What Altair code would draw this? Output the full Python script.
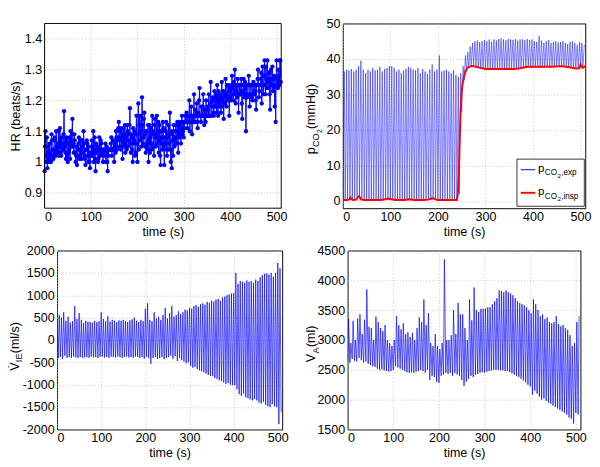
import altair as alt
import pandas as pd

FONT = "Liberation Sans"

# ---------------- data ----------------
hr_time_even = list(range(0, 510, 2))
hr_values_even = [
    0.97, 1.10, 1.02, 0.98, 1.05, 1.01, 1.03, 1.00, 1.07, 1.02,
    1.04, 1.08, 1.02, 1.05, 1.03, 1.10, 1.05, 1.07, 1.02, 1.06,
    1.04, 1.165, 1.05, 1.01, 1.07, 1.00, 1.03, 1.08, 1.10, 1.05,
    1.14, 1.06, 1.09, 1.03, 1.02, 0.99, 1.04, 1.08, 1.02, 1.07,
    1.01, 1.05, 1.10, 1.02, 0.99, 1.04, 1.06, 1.00, 1.03, 0.98,
    1.02, 1.07, 1.04, 1.00, 1.08, 0.97, 1.03, 1.05, 1.01, 1.08,
    1.02, 1.06, 1.04, 1.00, 1.04, 1.04, 1.00, 1.05, 0.97, 1.02,
    1.04, 1.04, 1.08, 1.04, 1.04, 1.00, 1.06, 1.10, 1.04, 1.07,
    1.13, 1.05, 1.10, 1.08, 1.01, 1.11, 1.06, 1.03, 1.09, 1.12,
    1.05, 1.09, 1.175, 1.03, 1.08, 1.00, 1.06, 1.10, 1.03, 1.15,
    1.00, 1.19, 1.12, 1.07, 1.15, 1.21, 1.06, 1.14, 1.09, 1.03,
    1.10, 1.06, 1.00, 1.12, 1.08, 1.04, 1.15, 1.09, 1.02, 1.14,
    1.05, 1.15, 1.10, 1.03, 1.12, 0.99, 1.08, 1.04, 1.11, 0.99,
    1.06, 1.13, 1.02, 1.09, 1.04, 1.16, 1.00, 0.98, 1.07, 1.12,
    1.05, 1.10, 1.08, 1.13, 1.03, 1.09, 1.12, 1.06, 1.15, 1.10,
    1.08, 1.13, 1.13, 1.16, 1.11, 1.13, 1.20, 1.13, 1.18, 1.09,
    1.13, 1.22, 1.13, 1.15, 1.19, 1.11, 1.15, 1.24, 1.15, 1.18,
    1.15, 1.22, 1.12, 1.15, 1.20, 1.15, 1.17, 1.22, 1.15, 1.26,
    1.15, 1.20, 1.16, 1.23, 1.18, 1.21, 1.25, 1.15, 1.19, 1.22,
    1.16, 1.26, 1.20, 1.14, 1.22, 1.27, 1.18, 1.21, 1.25, 1.15,
    1.23, 1.20, 1.28, 1.22, 1.26, 1.30, 1.19, 1.25, 1.27, 1.16,
    1.25, 1.22, 1.27, 1.14, 1.25, 1.21, 1.26, 1.10, 1.25, 1.22,
    1.28, 1.18, 1.25, 1.25, 1.20, 1.26, 1.22, 1.25, 1.17, 1.25,
    1.30, 1.21, 1.25, 1.27, 1.19, 1.31, 1.25, 1.33, 1.22, 1.27,
    1.33, 1.24, 1.29, 1.17, 1.30, 1.25, 1.23, 1.27, 1.18, 1.13,
    1.33, 1.26, 1.30, 1.25, 1.33,
]
hr_time_odd = list(range(1, 510, 2))
hr_values_odd = [
    1.05, 1.00, 1.08, 1.03, 1.00, 1.06, 1.02, 1.09, 1.04, 1.01,
    1.07, 1.03, 1.10, 1.04, 1.06, 1.02, 1.11, 1.03, 1.08, 1.04,
    1.09, 1.06, 1.03, 1.08, 1.02, 1.06, 1.04, 1.01, 1.07, 1.09,
    1.05, 1.03, 1.07, 1.00, 1.05, 1.02, 1.06, 1.01, 1.04, 1.03,
    1.07, 1.03, 1.06, 1.01, 1.04, 1.07, 1.02, 1.05, 1.00, 1.03,
    1.05, 1.02, 1.10, 1.03, 1.01, 1.06, 1.04, 1.00, 1.04, 1.02,
    1.07, 1.03, 1.04, 1.04, 1.02, 1.06, 1.03, 1.00, 1.04, 1.04,
    1.04, 1.06, 1.02, 1.04, 1.07, 1.05, 1.03, 1.08, 1.05, 1.11,
    1.08, 1.11, 1.04, 1.07, 1.09, 1.05, 1.12, 1.08, 1.04, 1.10,
    1.07, 1.12, 1.06, 1.09, 1.04, 1.11, 1.07, 1.02, 1.09, 1.06,
    1.09, 1.04, 1.15, 1.10, 1.05, 1.12, 1.08, 1.16, 1.05, 1.10,
    1.04, 1.12, 1.07, 1.03, 1.11, 1.06, 1.10, 1.05, 1.12, 1.08,
    1.09, 1.06, 1.13, 1.07, 1.02, 1.10, 1.06, 1.13, 1.05, 1.08,
    1.10, 1.04, 1.08, 1.12, 1.06, 1.09, 1.04, 1.10, 1.02, 1.07,
    1.08, 1.12, 1.06, 1.10, 1.13, 1.08, 1.11, 1.13, 1.09, 1.13,
    1.11, 1.15, 1.13, 1.13, 1.15, 1.13, 1.10, 1.15, 1.13, 1.15,
    1.15, 1.13, 1.17, 1.15, 1.13, 1.16, 1.20, 1.15, 1.13, 1.15,
    1.18, 1.15, 1.17, 1.13, 1.15, 1.18, 1.15, 1.15, 1.19, 1.15,
    1.18, 1.21, 1.15, 1.18, 1.22, 1.16, 1.20, 1.23, 1.18, 1.21,
    1.20, 1.18, 1.23, 1.21, 1.19, 1.22, 1.25, 1.20, 1.21, 1.24,
    1.21, 1.25, 1.24, 1.20, 1.22, 1.25, 1.23, 1.21, 1.25, 1.22,
    1.22, 1.25, 1.19, 1.23, 1.27, 1.22, 1.24, 1.25, 1.21, 1.25,
    1.25, 1.22, 1.25, 1.21, 1.25, 1.23, 1.25, 1.20, 1.25, 1.27,
    1.25, 1.23, 1.25, 1.29, 1.25, 1.22, 1.28, 1.25, 1.31, 1.24,
    1.26, 1.29, 1.22, 1.27, 1.25, 1.31, 1.24, 1.28, 1.25, 1.27,
    1.27, 1.24, 1.28, 1.33, 1.26,
]

breath_time = list(range(0, 510, 5))
pco2_exp_peak = [
    36.5, 37.0, 36.8, 37.2, 36.5, 37.0, 38.0, 39.5, 37.0, 36.0,
    37.0, 36.5, 37.5, 36.8, 37.0, 37.8, 36.5, 37.2, 37.5, 38.0,
    38.0, 37.5, 36.5, 37.0, 36.0, 36.8, 37.2, 37.8, 37.5, 37.0,
    36.8, 37.5, 36.0, 37.2, 36.5, 35.8, 37.0, 38.5, 36.5, 37.0,
    41.0, 36.5, 36.8, 37.0, 36.5, 36.0, 36.8, 35.5, 35.0, 36.0,
    38.0, 41.0, 42.0, 43.5, 44.5, 45.0, 45.2, 44.8, 45.0, 45.3,
    45.0, 45.5, 44.8, 45.5, 45.2, 45.6, 45.8, 45.5, 45.3, 45.6,
    45.5, 45.4, 45.6, 45.2, 45.5, 45.5, 45.3, 45.6, 45.4, 45.5,
    45.0, 44.8, 46.5, 45.2, 44.6, 45.0, 45.3, 44.5, 44.8, 45.0,
    44.6, 44.8, 45.0, 44.5, 44.2, 44.8, 45.0, 44.5, 44.0, 44.8,
    44.5, 44.0,
]
pco2_exp_trough = [
    0.3, 0.3, 0.5, 1.0, 0.5, 0.4, 1.2, 1.3, 0.5, 0.3,
    0.3, 0.3, 0.3, 0.3, 0.4, 0.3, 0.3, 0.3, 0.5, 0.7,
    0.6, 0.4, 0.3, 0.3, 0.3, 0.3, 0.4, 0.5, 0.3, 0.3,
    0.3, 0.3, 0.3, 0.3, 0.3, 0.3, 0.4, 0.4, 0.6, 0.8,
    0.5, 0.3, 0.3, 0.3, 0.3, 0.3, 0.3, 0.3, 0.3, 2.0,
    25.0, 34.0, 36.5, 37.5, 38.0, 38.0, 37.8, 37.5, 37.3, 37.2,
    37.2, 37.2, 37.2, 37.3, 37.2, 37.2, 37.3, 37.2, 37.2, 37.2,
    37.2, 37.3, 37.2, 37.2, 37.3, 37.5, 37.7, 37.8, 37.8, 37.7,
    37.8, 37.8, 37.8, 37.6, 37.7, 37.8, 37.8, 37.7, 37.8, 37.8,
    37.8, 37.9, 38.0, 37.9, 37.7, 37.5, 37.4, 37.3, 37.2, 37.2,
    38.3, 37.5,
]
pco2_insp_time = [
    0, 5, 10, 14, 16, 18, 22, 28, 31, 33,
    35, 38, 45, 60, 80, 90, 95, 100, 110, 130,
    140, 150, 170, 180, 188, 192, 196, 200, 220, 240,
    242, 244, 246, 248, 250, 252, 255, 258, 262, 266,
    270, 275, 280, 290, 300, 320, 340, 360, 370, 380,
    390, 400, 420, 440, 460, 470, 480, 490, 495, 498,
    500, 502, 505, 510,
]
pco2_insp = [
    0.3, 0.3, 0.3, 0.5, 1.0, 0.5, 0.3, 0.4, 1.0, 1.3,
    1.2, 0.5, 0.3, 0.3, 0.3, 0.5, 0.7, 0.6, 0.3, 0.3,
    0.5, 0.3, 0.3, 0.4, 0.8, 0.7, 0.4, 0.3, 0.3, 0.3,
    2.0, 8.0, 18.0, 26.0, 31.0, 33.0, 35.0, 36.5, 37.5, 37.8,
    38.0, 38.0, 37.8, 37.5, 37.2, 37.2, 37.2, 37.2, 37.3, 37.6,
    37.8, 37.8, 37.8, 37.8, 38.0, 37.8, 37.6, 37.3, 37.3, 37.5,
    38.5, 38.0, 37.5, 38.0,
]
vie_peak = [
    450, 560, 500, 620, 430, 520, 390, 420, 760, 470,
    600, 450, 380, 430, 410, 400, 390, 430, 400, 420,
    620, 470, 420, 530, 410, 450, 430, 400, 440, 430,
    450, 420, 400, 440, 460, 500, 430, 400, 450, 420,
    700, 820, 450, 420, 620, 480, 520, 450, 560, 720,
    480, 600, 760, 520, 560, 640, 580, 620, 680, 660,
    720, 700, 760, 780, 740, 800, 820, 790, 850, 830,
    880, 860, 900, 920, 880, 950, 970, 1000, 1020, 1040,
    1050, 1500, 1250, 1320, 1300, 1280, 1330, 1300, 1320, 1280,
    1350, 1320, 1400, 1450, 1480, 1490, 1460, 1500, 1420, 1500,
    1720, 1600,
]
vie_trough = [
    -400, -380, -420, -350, -400, -380, -400, -370, -390, -400,
    -380, -400, -390, -380, -400, -370, -390, -380, -400, -380,
    -370, -390, -380, -400, -370, -380, -390, -370, -380, -400,
    -380, -370, -390, -380, -400, -370, -380, -400, -380, -420,
    -380, -400, -530, -400, -380, -420, -400, -380, -430, -400,
    -380, -350, -420, -360, -470, -400, -450, -480, -520, -500,
    -580, -620, -600, -650, -680, -700, -720, -750, -780, -800,
    -810, -850, -870, -900, -920, -950, -980, -960, -1000, -1010,
    -1010, -1100, -1210, -1250, -1200, -1280, -1300, -1330, -1350, -1320,
    -1350, -1400, -1420, -1380, -1450, -1480, -1500, -1430, -1480, -1500,
    -1880, -1610,
]
va_peak = [
    3350, 2950, 3320, 3000, 3360, 3430, 3100, 3340, 3850, 3220,
    3200, 3000, 3390, 3300, 3200, 3150, 3250, 3000, 2950, 2900,
    3000, 3400, 3250, 3180, 3280, 3100, 3130, 3050, 3120, 3000,
    3200, 3380, 3300, 3680, 3250, 3450, 2950, 2900, 3100, 2900,
    2850, 2950, 4350, 3000, 3000, 3080, 3500, 3100, 3620, 3430,
    3430, 3200, 3000, 3680, 3330, 3880, 3500, 3470, 3520, 3520,
    3530, 3550, 3550, 3600, 3650, 3700, 3830, 3820, 3800, 3830,
    3800, 3780, 3750, 3700, 3650, 3620, 3600, 3580, 3550, 3500,
    3450, 3680, 3600, 3500, 3400, 3430, 3350, 3380, 3300, 3280,
    3300, 3400, 3270, 3230, 3250, 3200, 3170, 3080, 2900, 2950,
    3300, 3400,
]
va_trough = [
    2650, 2620, 2680, 2650, 2640, 2700, 2660, 2620, 2640, 2600,
    2580, 2560, 2550, 2520, 2500, 2510, 2490, 2480, 2470, 2480,
    2500, 2560, 2540, 2520, 2500, 2480, 2460, 2450, 2460, 2450,
    2470, 2480, 2500, 2480, 2450, 2500, 2330, 2400, 2380, 2300,
    2280, 2400, 2420, 2450, 2430, 2450, 2400, 2450, 2420, 2400,
    2330, 2230, 2300, 2350, 2400, 2380, 2420, 2430, 2450, 2460,
    2450, 2470, 2480, 2490, 2500, 2500, 2500, 2490, 2490, 2480,
    2480, 2460, 2440, 2420, 2400, 2380, 2350, 2320, 2290, 2250,
    2220, 2080, 2150, 2100, 2050, 2000, 2020, 1980, 1950, 1930,
    1900, 1880, 1850, 1830, 1800, 1780, 1750, 1700, 1680, 1600,
    1780, 1750,
]

x_ticks = [0, 100, 200, 300, 400, 500]
hr_ticks = [0.9, 1.0, 1.1, 1.2, 1.3, 1.4]
pco2_ticks = [0, 10, 20, 30, 40, 50]
vie_ticks = [-2000, -1500, -1000, -500, 0, 500, 1000, 1500, 2000]
va_ticks = [1500, 2000, 2500, 3000, 3500, 4000, 4500]

# ---------------- layout constants ----------------
W1, W2, H1 = 246, 252, 192
W3, W4, H2 = 234, 242, 186
SHIFT = 13          # HR plot sits further left than the V_IE plot
BLUE = "#0000ff"
RED = "#ff0000"
GRID = "#b8b8b8"

CHAR_W = {'p': .556, 'C': .722, 'O': .778, '2': .556, ' ': .4, '(': .333, ')': .333,
          'm': .833, 'H': .722, 'g': .556, 'V': .667, 'I': .278, 'E': .667, 'A': .667,
          'l': .222, '/': .278, 's': .5, ',': .278, 'e': .556, 'x': .5, 'i': .222, 'n': .556}


def text_width(txt, size):
    return sum(CHAR_W.get(c, 0.0) for c in txt) * size


one = pd.DataFrame({"k": [0]})


def text_runs(runs, x, y, angle):
    layers = []
    adv = 0.0
    for txt, size, shift in runs:
        layers.append(
            alt.Chart(one).mark_text(text=txt, font=FONT, fontSize=size, angle=angle,
                                     align="left", baseline="alphabetic", dx=adv, dy=shift,
                                     color="black")
            .encode(x=alt.value(x), y=alt.value(y))
        )
        adv += text_width(txt, size) + 0.3
    return layers


def zigzag(times, first, second, lag):
    rows = []
    for t, a, b in zip(times, first, second):
        rows.append({"t": t, "v": a})
        rows.append({"t": t + lag, "v": b})
    return pd.DataFrame(rows)


def x_enc():
    return alt.X("t:Q", scale=alt.Scale(domain=[0, 510], nice=False, zero=False),
                 axis=alt.Axis(values=x_ticks, title="time (s)", format="d",
                               titleFontWeight="normal"))


def y_enc(domain, ticks):
    return alt.Y("v:Q", scale=alt.Scale(domain=domain, nice=False, zero=False),
                 axis=alt.Axis(values=ticks, title=None, labelExpr="'' + datum.value"))


# ---------------- panel 1: HR (plot drawn SHIFT px left of its cell) ----------------
hr_df = pd.DataFrame({"t": hr_time_even + hr_time_odd,
                      "v": hr_values_even + hr_values_odd}).sort_values("t")
hr_ticks_df = pd.DataFrame({"v": hr_ticks})
hr_x = alt.X("t:Q", scale=alt.Scale(domain=[0, 510], nice=False, zero=False,
                                    range=[-SHIFT, W1 - SHIFT]),
             axis=alt.Axis(values=x_ticks, title="time (s)", format="d",
                           titleFontWeight="normal", titleX=W1 / 2 - SHIFT))
hr_y = alt.Y("v:Q", scale=alt.Scale(domain=[0.85, 1.45], nice=False, zero=False),
             axis=alt.Axis(values=hr_ticks, format="~g", title="HR (beats/s)",
                           titleFontWeight="normal", grid=False, offset=SHIFT))
p1 = alt.layer(
    alt.Chart(hr_ticks_df).mark_rule(color=GRID, strokeDash=[1, 2], strokeWidth=0.8).encode(
        y=hr_y, x=alt.value(-SHIFT), x2=alt.value(W1 - SHIFT)),
    alt.Chart(hr_df).mark_line(color=BLUE, strokeWidth=1.0).encode(x=hr_x, y=hr_y),
    alt.Chart(hr_df).mark_circle(color=BLUE, size=20, opacity=1).encode(x=hr_x, y=hr_y),
    alt.Chart(one).mark_rect(fill="transparent", stroke="black", strokeWidth=1).encode(
        x=alt.value(-SHIFT), x2=alt.value(W1 - SHIFT), y=alt.value(0), y2=alt.value(H1)),
).properties(width=W1, height=H1, view=alt.ViewBackground(stroke="transparent"))

# ---------------- panel 2: pCO2 ----------------
exp_df = zigzag(breath_time, pco2_exp_trough, pco2_exp_peak, 3)
insp_df = pd.DataFrame({"t": pco2_insp_time, "v": pco2_insp})
p2_y = y_enc([-2, 50], pco2_ticks)
p2_layers = [
    alt.Chart(exp_df).mark_line(color=BLUE, strokeWidth=0.5, clip=True).encode(x=x_enc(), y=p2_y),
    alt.Chart(insp_df).mark_line(color=RED, strokeWidth=2, clip=True).encode(x=x_enc(), y=p2_y),
    alt.Chart(one).mark_rect(fill="white", stroke="black", strokeWidth=0.8).encode(
        x=alt.value(W2 - 71), x2=alt.value(W2 - 1), y=alt.value(H1 - 51), y2=alt.value(H1 - 2)),
    alt.Chart(one).mark_rule(color=BLUE, strokeWidth=1).encode(
        x=alt.value(W2 - 67), x2=alt.value(W2 - 52), y=alt.value(H1 - 40)),
    alt.Chart(one).mark_rule(color=RED, strokeWidth=2).encode(
        x=alt.value(W2 - 67), x2=alt.value(W2 - 52), y=alt.value(H1 - 16)),
]
p2_layers += text_runs([("p", 12, 0), ("CO", 8.5, 4), ("2", 6.5, 6.5), (",exp", 8.5, 4)],
                       W2 - 49, H1 - 38, 0)
p2_layers += text_runs([("p", 12, 0), ("CO", 8.5, 4), ("2", 6.5, 6.5), (",insp", 8.5, 4)],
                       W2 - 49, H1 - 14, 0)
p2_layers += text_runs([("p", 13, 0), ("CO", 9.5, 4), ("2", 7, 7), (" (mmHg)", 13, 0)],
                       -29, H1 / 2 + 40, 270)
p2 = alt.layer(*p2_layers).properties(width=W2, height=H1)

# ---------------- panel 3: V_IE ----------------
vie_df = zigzag(breath_time, vie_peak, vie_trough, 2.5)
p3_y = y_enc([-2000, 2000], vie_ticks)
p3_layers = [alt.Chart(vie_df).mark_line(color=BLUE, strokeWidth=0.7, clip=True).encode(x=x_enc(), y=p3_y)]
p3_layers += text_runs([("V\u0307", 13, 0), ("IE", 9.5, 4), (" (ml/s)", 13, 0)],
                       -40, H2 / 2 + 32, 270)
p3 = alt.layer(*p3_layers).properties(width=W3, height=H2)

# ---------------- panel 4: V_A ----------------
va_df = zigzag(breath_time, va_trough, va_peak, 2)
p4_y = y_enc([1500, 4500], va_ticks)
p4_layers = [alt.Chart(va_df).mark_line(color=BLUE, strokeWidth=0.7, clip=True).encode(x=x_enc(), y=p4_y)]
p4_layers += text_runs([("V", 13, 0), ("A", 9.5, 4), (" (ml)", 13, 0)],
                       -34, H2 / 2 + 23, 270)
p4 = alt.layer(*p4_layers).properties(width=W4, height=H2)

chart = (
    alt.concat(p1, p2, p3, p4, columns=2,
               align=alt.RowColLayoutAlign(row="each", column="none"),
               spacing={"row": 5, "column": 10})
    .properties(padding={"left": 0, "top": 0, "right": 0, "bottom": 0})
    .configure_axis(labelFont=FONT, titleFont=FONT, labelFontSize=13, titleFontSize=13,
                    titleFontWeight="normal", labelColor="black", titleColor="black",
                    grid=True, gridColor=GRID, gridDash=[1, 2], gridWidth=0.8,
                    domain=False, ticks=False, labelPadding=3, titlePadding=2)
    .configure_view(stroke="black", strokeWidth=1)
)

chart.save("out.html", embed_options={"renderer": "svg", "actions": False})
